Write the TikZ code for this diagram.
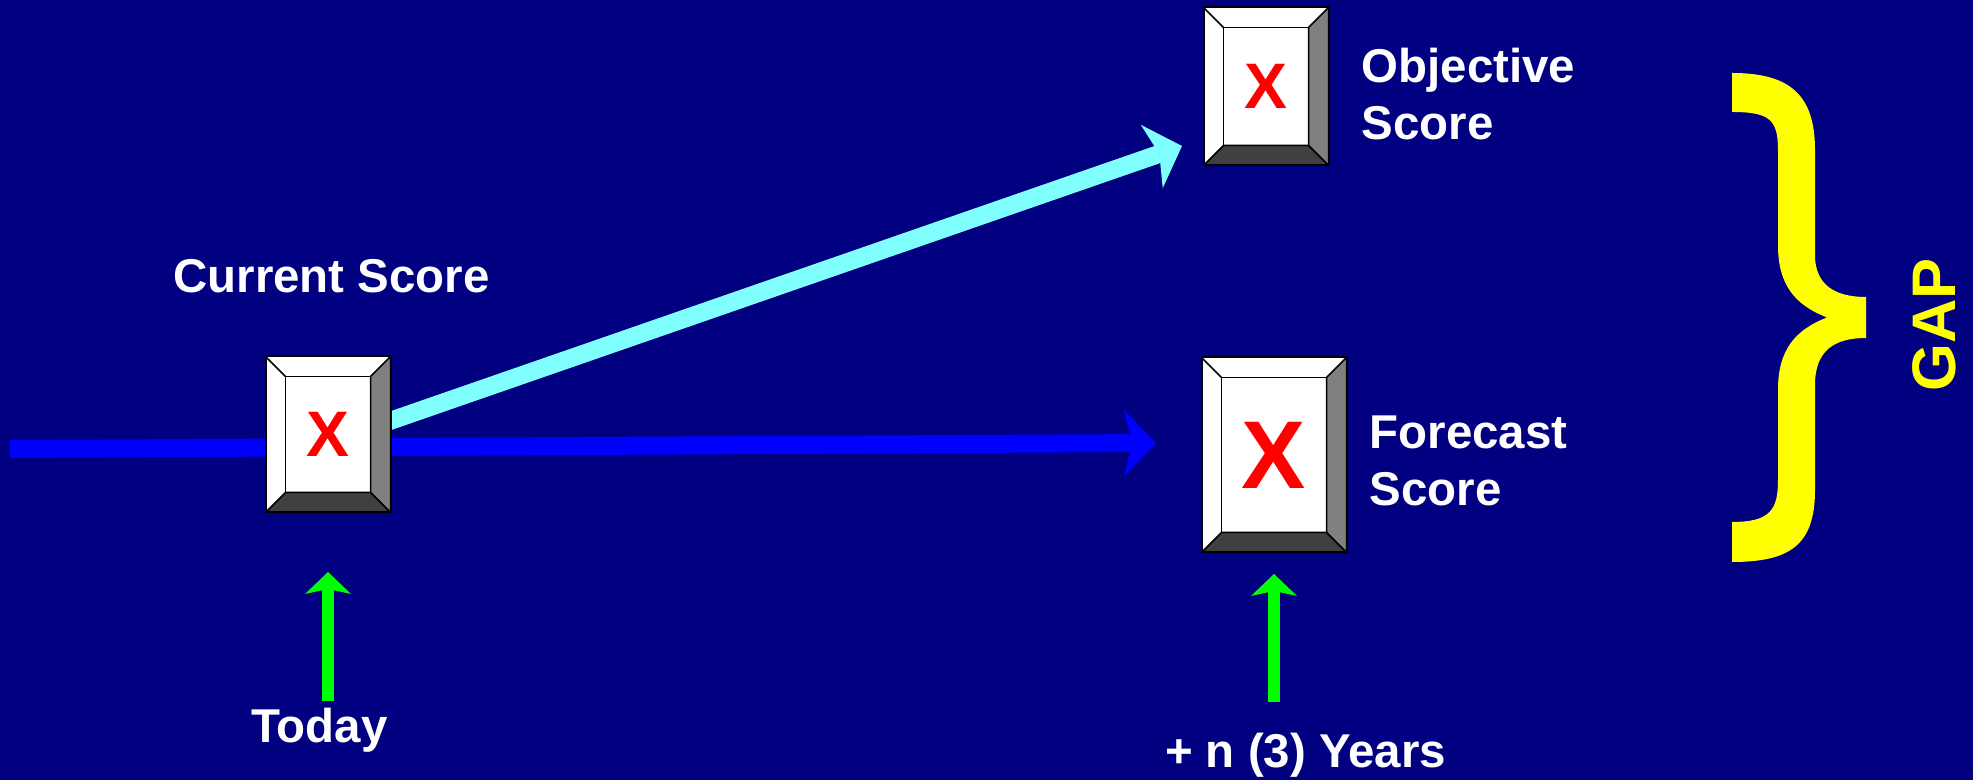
\documentclass[tikz,border=0pt]{standalone}
\usepackage{fontspec}
\setmainfont{Liberation Sans}
\usetikzlibrary{arrows.meta,calc,backgrounds}

\definecolor{slidenavy}{RGB}{0,0,128}
\definecolor{pathblue}{RGB}{0,0,255}
\definecolor{goalcyan}{RGB}{128,255,255}
\definecolor{timegreen}{RGB}{0,255,0}
\definecolor{gapyellow}{RGB}{255,255,0}
\definecolor{bevelside}{RGB}{128,128,128}
\definecolor{bevelfoot}{RGB}{64,64,64}

\newcommand{\bevelsize}{0.2cm}

\tikzset{
  bevelbox/.style={draw=black, line width=0.02cm, fill=white, inner sep=0pt, text=red,
    path picture={
      \path (path picture bounding box.south west) coordinate (bl)
            (path picture bounding box.north east) coordinate (tr)
            (path picture bounding box.south east) coordinate (br)
            (path picture bounding box.north west) coordinate (tl);
      \filldraw[fill=bevelside, draw=black, line width=0.015cm] (tr) -- (br) -- ++(-\bevelsize,\bevelsize) -- ($(tr)+(-\bevelsize,-\bevelsize)$) -- cycle;
      \filldraw[fill=bevelfoot, draw=black, line width=0.015cm] (bl) -- (br) -- ++(-\bevelsize,\bevelsize) -- ($(bl)+(\bevelsize,\bevelsize)$) -- cycle;
      \draw[black, line width=0.015cm] (tl) -- ++(\bevelsize,-\bevelsize);
      \draw[black, line width=0.015cm] ($(bl)+(\bevelsize,\bevelsize)$) rectangle ($(tr)+(-\bevelsize,-\bevelsize)$);
    }},
  small mark/.style={font={\fontsize{18.3}{20}\selectfont\bfseries}},
  big mark/.style={font={\fontsize{27.4}{30}\selectfont\bfseries}},
  label text/.style={text=white, inner sep=0pt, font={\fontsize{13.5}{16.3}\selectfont\bfseries}},
  gap text/.style={text=gapyellow, inner sep=0pt, font={\fontsize{17.5}{20}\selectfont\bfseries}},
  bigarrow/.style={-{Stealth[length=0.32cm, width=0.67cm, inset=0.08cm, line width=0pt]}, line width=0.18cm},
  uparrow/.style={-{Stealth[length=0.22cm, width=0.46cm, inset=0.05cm, line width=0pt]}, line width=0.12cm, draw=timegreen, fill=timegreen}
}

\begin{document}
\begin{tikzpicture}

\useasboundingbox (0,0) rectangle (19.73,7.80);

%% Draw Score Boxes

\node[bevelbox, small mark, minimum width=1.25cm, minimum height=1.56cm] (cur) at (3.28,3.455) {X};

\node[bevelbox, small mark, minimum width=1.25cm, minimum height=1.58cm] (obj) at (12.66,6.935) {X};

\node[bevelbox, big mark, minimum width=1.45cm, minimum height=1.95cm] (fc) at (12.74,3.25) {X};

%% Labels

\node[label text, anchor=base] (curlabel) at (3.315,4.87) {Current Score};

\node[label text, align=left, anchor=north west] (objlabel) at (13.61,7.33) {Objective\\Score};

\node[label text, align=left, anchor=north west] (fclabel) at (13.69,3.65) {Forecast\\Score};

\node[label text, anchor=base] (today) at (3.195,0.37) {Today};

\node[label text, anchor=base] (later) at (13.055,0.12) {+ n (3) Years};

%% Background and Trend Arrows

\begin{scope}[on background layer]
\fill[slidenavy] (0,0) rectangle (19.73,7.80);

\coordinate (past) at (0.10,3.31);

\draw[bigarrow, pathblue] (past) -- ([shift={(-0.445,0.12)}]fc.west);

\draw[bigarrow, goalcyan] ([yshift=-0.08cm]cur.center) -- ([shift={(-0.205,0.205)}]obj.south west);
\end{scope}

%% Time Arrows

\draw[uparrow] ([yshift=-1.875cm]cur.south) -- ([yshift=-0.585cm]cur.south);

\draw[uparrow] ([yshift=-1.485cm]fc.south) -- ([yshift=-0.205cm]fc.south);

%% Gap Brace

\fill[gapyellow] (17.32,7.07) .. controls (17.90,7.07) and (18.15,6.85) .. (18.15,6.30)
  -- (18.15,5.25) .. controls (18.15,4.95) and (18.35,4.83) .. (18.66,4.83)
  -- (18.66,4.42) .. controls (18.35,4.42) and (18.15,4.30) .. (18.15,3.95)
  -- (18.15,2.90) .. controls (18.15,2.35) and (17.90,2.18) .. (17.32,2.18)
  -- (17.32,2.58) .. controls (17.70,2.58) and (17.78,2.70) .. (17.78,3.00)
  -- (17.78,3.90) .. controls (17.78,4.30) and (17.95,4.50) .. (18.27,4.625)
  .. controls (17.95,4.75) and (17.78,4.95) .. (17.78,5.35)
  -- (17.78,6.30) .. controls (17.78,6.60) and (17.70,6.68) .. (17.32,6.68) -- cycle;

\node[gap text, rotate=90] (gap) at (19.345,4.55) {GAP};

\end{tikzpicture}
\end{document}
